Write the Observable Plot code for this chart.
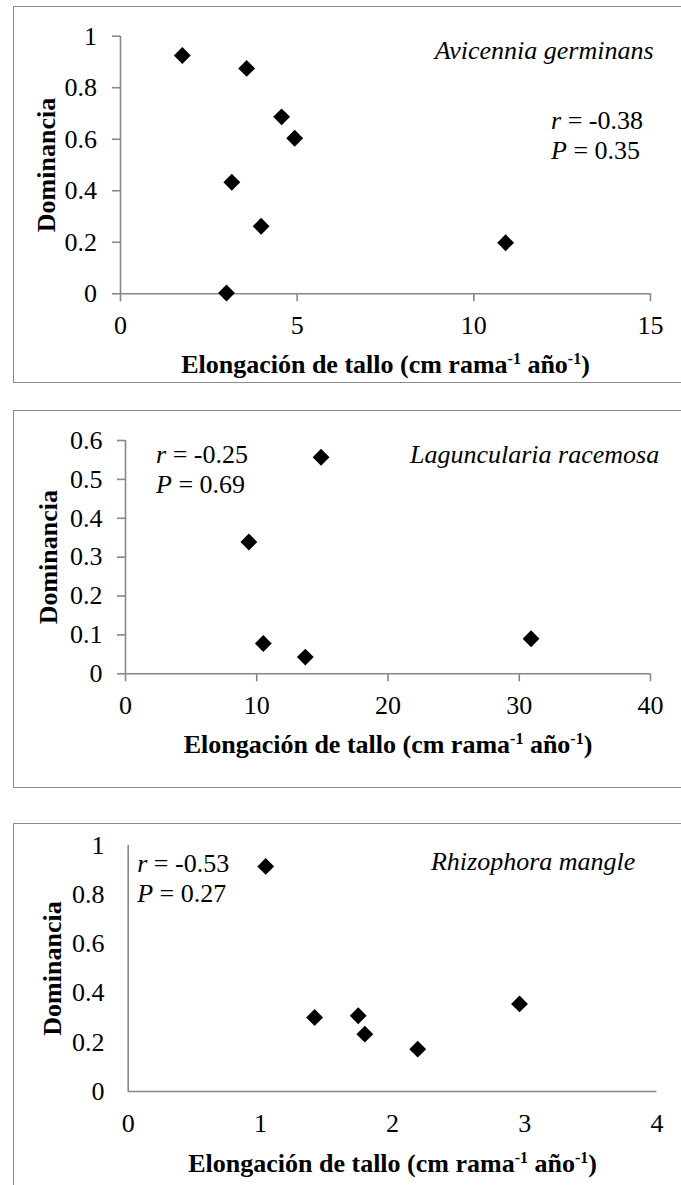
<!DOCTYPE html>
<html><head><meta charset="utf-8">
<script src="https://cdn.jsdelivr.net/npm/d3@7"></script>
<script src="https://cdn.jsdelivr.net/npm/@observablehq/plot@0.6"></script>
<style>
body{margin:0;background:#fff;}
#page{position:relative;width:681px;height:1185px;overflow:hidden;background:#fff;}
.panel{position:absolute;left:0;width:681px;}
.panel svg{display:block;font-family:"Liberation Serif","Times New Roman",serif !important;}
.panel svg text, .panel svg tspan{font-family:"Liberation Serif","Times New Roman",serif !important;}
.box{position:absolute;left:13px;width:720px;border:1.6px solid #8a8a8a;box-sizing:border-box;pointer-events:none;}
</style></head><body><div id="page"></div>
<script>
// ---- data ----
const avicenniaX = [1.75, 3.57, 4.56, 4.93, 3.15, 3.98, 3.0, 10.9];
const avicenniaY = [0.925, 0.875, 0.687, 0.604, 0.433, 0.262, 0.003, 0.198];
const lagunculariaX = [14.9, 9.4, 10.5, 13.7, 30.9];
const lagunculariaY = [0.557, 0.339, 0.078, 0.043, 0.090];
const rhizophoraX = [1.04, 1.41, 1.74, 1.79, 2.19, 2.96];
const rhizophoraY = [0.915, 0.301, 0.308, 0.233, 0.172, 0.356];

const xTicks1 = [0, 5, 10, 15];
const yTicks1 = [0, 0.2, 0.4, 0.6, 0.8, 1];
const xTicks2 = [0, 10, 20, 30, 40];
const yTicks2 = [0, 0.1, 0.2, 0.3, 0.4, 0.5, 0.6];
const xTicks3 = [0, 1, 2, 3, 4];
const yTicks3 = [0, 0.2, 0.4, 0.6, 0.8, 1];

const species = ["Avicennia germinans", "Laguncularia racemosa", "Rhizophora mangle"];
const rLabels = ["r = -0.38", "r = -0.25", "r = -0.53"];
const pLabels = ["P = 0.35", "P = 0.69", "P = 0.27"];
const xTitle = "Elongación de tallo (cm rama-1 año-1)";
const yTitle = "Dominancia";

const toPts = (X, Y) => X.map((x, i) => ({x, y: Y[i]}));

// ---- layout ----
const gray = "#878787";
const FS = 26;
const FONT = "'Liberation Serif', 'Times New Roman', serif";
const panels = [
  {top: 0, height: 383, mt: 35.7, mb: 89.7, ml: 120, mr: 31,
   xd: [0, 15], yd: [0, 1], xt: xTicks1, yt: yTicks1, tick: 8, xpad: 13.5, ypad: 15.5,
   pts: toPts(avicenniaX, avicenniaY), sp: species[0], r: rLabels[0], p: pLabels[0],
   spDx: 3, spDy: 23, stDx: 430.5, rDy: 92.6, pDy: 122.6, yTdx: -65.7, xTdy: 79.4,
   box: {top: 6, height: 377}},
  {top: 410, height: 377, mt: 30, mb: 113.7, ml: 125, mr: 31,
   xd: [0, 40], yd: [0, 0.6], xt: xTicks2, yt: yTicks2, tick: 8, xpad: 14, ypad: 15,
   pts: toPts(lagunculariaX, lagunculariaY), sp: species[1], r: rLabels[1], p: pLabels[1],
   spDx: 8.7, spDy: 22.3, stDx: 30.5, rDy: 22, pDy: 52.7, yTdx: -68.6, xTdy: 79.4,
   box: {top: 410, height: 378}},
  {top: 823, height: 362, mt: 22, mb: 94, ml: 127.7, mr: 24.5,
   xd: [0, 4], yd: [0, 1], xt: xTicks3, yt: yTicks3, tick: 0, xpad: 22, ypad: 23.7,
   pts: toPts(rhizophoraX, rhizophoraY), sp: species[2], r: rLabels[2], p: pLabels[2],
   spDx: -21.7, spDy: 24, stDx: 9, rDy: 26.7, pDy: 56.7, yTdx: -66.9, xTdy: 80.7,
   box: {top: 823, height: 420}}
];

const NS = "http://www.w3.org/2000/svg";
function decorate(svg) {
  svg.setAttribute("font-family", FONT);
  svg.querySelectorAll("text").forEach(t => {
    t.setAttribute("font-family", FONT);
    const s = t.textContent;
    if (s === xTitle) {
      const parts = [["Elongación de tallo (cm rama", false], ["-1", true], [" año", false], ["-1", true], [")", false]];
      t.textContent = "";
      let raised = false;
      for (const [str, sup] of parts) {
        const ts = document.createElementNS(NS, "tspan");
        ts.textContent = str;
        if (sup) { ts.setAttribute("font-size", "16"); ts.setAttribute("dy", "-9"); raised = true; }
        else if (raised) { ts.setAttribute("dy", "9"); raised = false; }
        t.appendChild(ts);
      }
    } else if (/^[rP] = /.test(s)) {
      t.textContent = "";
      const a = document.createElementNS(NS, "tspan");
      a.setAttribute("font-style", "italic");
      a.textContent = s[0];
      const b = document.createElementNS(NS, "tspan");
      b.textContent = s.slice(1);
      t.appendChild(a); t.appendChild(b);
    }
  });
}

const page = document.getElementById("page");
for (const c of panels) {
  const svg = Plot.plot({
    width: 681, height: c.height,
    marginTop: c.mt, marginBottom: c.mb, marginLeft: c.ml, marginRight: c.mr,
    x: {domain: c.xd, label: null},
    y: {domain: c.yd, label: null},
    style: {fontFamily: FONT, background: "transparent", color: "black", overflow: "visible"},
    marks: [
      Plot.ruleX([0], {stroke: gray, strokeWidth: 1.6}),
      Plot.ruleY([0], {stroke: gray, strokeWidth: 1.6}),
      Plot.axisX({ticks: c.xt, tickSize: c.tick, tickPadding: c.xpad, stroke: gray, strokeWidth: 1.6, fill: "black", fontSize: FS, fontFamily: FONT, tickFormat: d => String(d), label: null}),
      Plot.axisY({ticks: c.yt, tickSize: c.tick, tickPadding: c.ypad, stroke: gray, strokeWidth: 1.6, fill: "black", fontSize: FS, fontFamily: FONT, tickFormat: d => String(d), label: null}),
      Plot.dot(c.pts, {x: "x", y: "y", symbol: "diamond2", r: 7.6, fill: "black"}),
      Plot.text([c.sp], {frameAnchor: "top-right", textAnchor: "end", lineAnchor: "bottom", dx: c.spDx, dy: c.spDy, fontSize: FS, fontFamily: FONT, fontStyle: "italic", fill: "black"}),
      Plot.text([c.r], {frameAnchor: "top-left", textAnchor: "start", lineAnchor: "bottom", dx: c.stDx, dy: c.rDy, fontSize: FS, fontFamily: FONT, fill: "black"}),
      Plot.text([c.p], {frameAnchor: "top-left", textAnchor: "start", lineAnchor: "bottom", dx: c.stDx, dy: c.pDy, fontSize: FS, fontFamily: FONT, fill: "black"}),
      Plot.text([xTitle], {frameAnchor: "bottom", textAnchor: "middle", lineAnchor: "bottom", dy: c.xTdy, fontSize: FS, fontFamily: FONT, fontWeight: "bold", fill: "black"}),
      Plot.text([yTitle], {frameAnchor: "left", rotate: -90, textAnchor: "middle", lineAnchor: "bottom", dx: c.yTdx, fontSize: FS, fontFamily: FONT, fontWeight: "bold", fill: "black"})
    ]
  });
  decorate(svg);
  const div = document.createElement("div");
  div.className = "panel";
  div.style.top = c.top + "px";
  div.style.height = c.height + "px";
  div.appendChild(svg);
  page.appendChild(div);
  const box = document.createElement("div");
  box.className = "box";
  box.style.top = c.box.top + "px";
  box.style.height = c.box.height + "px";
  page.appendChild(box);
}
</script></body></html>
